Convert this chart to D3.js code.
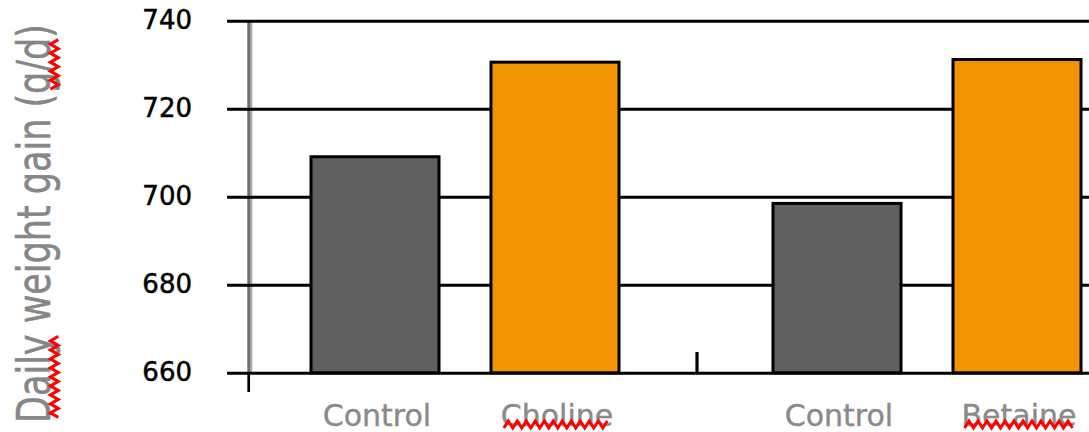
<!DOCTYPE html>
<html><head><meta charset="utf-8">
<script src="https://cdn.jsdelivr.net/npm/d3@7"></script>
<style>html,body{margin:0;padding:0;background:#fff;overflow:hidden}</style>
</head><body><svg id="c" width="1089" height="432"></svg>
<script>
// ---- data ----
const categories = ["Control", "Choline", "Control", "Betaine"];
const categoryGroup = ["A", "A", "B", "B"];
const values = [709.1, 730.6, 698.5, 731.2];
const groups = ["A", "B"];
const yTicks = [660, 680, 700, 720, 740];
const yLabel = "Daily weight gain (g/d)";
const flaggedWords = ["Choline", "Betaine", "Daily", "g/d"];

// ---- layout ----
const W = 1089, H = 432;
const svg = d3.select("#c");
const FONT = "'DejaVu Sans', Verdana, sans-serif";

const y = d3.scaleLinear().domain([660, 740]).range([372.8, 20.8]);
const x0 = d3.scaleBand().domain(groups).range([234, 1158]);
const x1 = d3.scaleBand().domain([0, 1]).range([0, x0.bandwidth()])
  .paddingInner(0.2722).paddingOuter(0.4194);
const slot = categories.map((c, i) =>
  categoryGroup.slice(0, i).filter(g => g === categoryGroup[i]).length);
const xLeft = i => x0(categoryGroup[i]) + x1(slot[i]);
const fill = d3.scaleOrdinal([0, 1], ["#5f5f5f", "#f29400"]);

const axisX = 248.7;

// gray vertical value-axis line
svg.append("rect").attr("x", axisX - 1.4).attr("y", y(740)).attr("width", 2.7)
  .attr("height", y(660) - y(740)).attr("fill", "#6d6d6d");
svg.append("rect").attr("x", axisX + 1.3).attr("y", y(740)).attr("width", 2.3)
  .attr("height", y(660) - y(740)).attr("fill", "#a8a8a8");

// gridlines + tick labels
const gridX0 = 227;
const ax = svg.append("g").attr("transform", `translate(${gridX0},0)`)
  .call(d3.axisLeft(y).tickValues(yTicks).tickSize(-(W - gridX0))
    .tickPadding(35).tickFormat(d3.format("d")));
ax.select(".domain").remove();
ax.selectAll(".tick line").attr("stroke", "#000").attr("stroke-width", 3);
ax.selectAll(".tick text").attr("font-family", FONT).attr("font-size", 26)
  .attr("fill", "#000").attr("stroke", "#000").attr("stroke-width", 0.5)
  .attr("dy", "0.30em");

// bars
svg.append("g").selectAll("rect").data(values).join("rect")
  .attr("x", (d, i) => xLeft(i) + 1.5)
  .attr("width", x1.bandwidth() - 3)
  .attr("y", d => y(d))
  .attr("height", d => y(660) - y(d))
  .attr("fill", (d, i) => fill(slot[i]))
  .attr("stroke", "#000").attr("stroke-width", 3);

// category-axis ticks
svg.append("line").attr("x1", axisX).attr("x2", axisX)
  .attr("y1", y(660)).attr("y2", 392).attr("stroke", "#000").attr("stroke-width", 2.7);
svg.append("line").attr("x1", x0("B") + 1).attr("x2", x0("B") + 1)
  .attr("y1", 352).attr("y2", y(660)).attr("stroke", "#000").attr("stroke-width", 3.2);

// squiggle helper
function zigH(xa, xb, yTop, yBot) {
  const pts = [];
  let k = 0;
  for (let xx = xa; xx <= xb; xx += 4.5, k++) pts.push([xx, k % 2 ? yTop : yBot]);
  return d3.line()(pts);
}
function zigV(ya, yb, xL, xR) {
  const pts = [];
  let k = 0;
  for (let yy = ya; yy <= yb; yy += 4.5, k++) pts.push([k % 2 ? xL : xR, yy]);
  return d3.line()(pts);
}

// category labels
const labelBase = 426;
const catLabels = svg.append("g").selectAll("text").data(categories).join("text")
  .attr("x", (d, i) => xLeft(i) + x1.bandwidth() / 2 + 2)
  .attr("y", labelBase)
  .attr("text-anchor", "middle")
  .attr("font-family", FONT).attr("font-size", 30).attr("fill", "#8a8a8a")
  .attr("stroke", "#8a8a8a").attr("stroke-width", 0.4)
  .text(d => d);

catLabels.each(function (d, i) {
  if (!flaggedWords.includes(d)) return;
  const len = this.getComputedTextLength();
  const cx = xLeft(i) + x1.bandwidth() / 2 + 2;
  svg.append("path").attr("d", zigH(cx - len / 2 + 3, cx + len / 2 - 3, labelBase - 5, labelBase + 2))
    .attr("fill", "none").attr("stroke", "#ff0000").attr("stroke-width", 3);
});

// y-axis title
const ycx = 50, ycy = 223.5, ys = 1.33;
const yg = svg.append("g").attr("transform", `translate(${ycx},${ycy}) scale(${ys},1) rotate(-90)`);
const yt = yg.append("text").attr("text-anchor", "middle")
  .attr("font-family", FONT).attr("font-size", 35).attr("fill", "#868686")
  .attr("stroke", "#868686").attr("stroke-width", 0.4)
  .text(yLabel);
const node = yt.node();
flaggedWords.forEach(w => {
  const idx = yLabel.indexOf(w);
  if (idx < 0) return;
  const s = node.getStartPositionOfChar(idx).x;
  const e = node.getEndPositionOfChar(idx + w.length - 1).x;
  const ya = ycy - e, yb = ycy - s;
  svg.append("path").attr("d", zigV(ya + 2, yb - 2, ycx + 0.3, ycx + 8.3))
    .attr("fill", "none").attr("stroke", "#ff0000").attr("stroke-width", 3);
});
</script>
</body></html>
